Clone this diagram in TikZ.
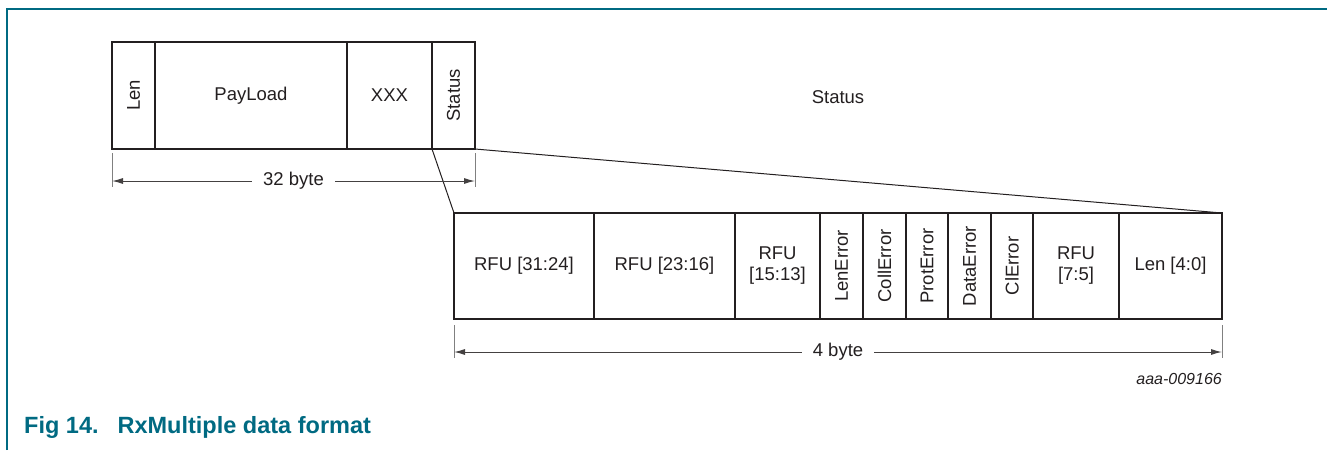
\documentclass[tikz,border=0pt]{standalone}
\usepackage{fontspec}
\setmainfont{Liberation Sans}
\usepackage{xcolor}
\usepackage{graphicx}
\definecolor{nxpteal}{RGB}{0,106,130}
\definecolor{ink}{RGB}{35,31,32}
\usetikzlibrary{arrows.meta}
\usetikzlibrary{positioning}

\begin{document}
\begin{tikzpicture}[x=1pt,y=-1pt,
  field/.style={draw=ink, line width=2pt, rectangle, inner sep=0pt, outer sep=0pt, anchor=north west, text=ink, align=center, font=\fontsize{18.5}{21}\selectfont},
  plain/.style={text=ink, inner sep=0pt, font=\fontsize{18.5}{21}\selectfont},
  zoomline/.style={draw=ink, line width=1pt},
  dimline/.style={draw=gray, line width=1pt},
  dimarrow/.style={draw=ink!85, line width=1pt, {Latex[length=11pt,width=6pt]}-{Latex[length=11pt,width=6pt]}},
  dimlabel/.style={fill=white, text=ink, inner xsep=11pt, inner ysep=2pt, font=\fontsize{18.5}{21}\selectfont}]

  \useasboundingbox (0,0) rectangle (1327,450);

  % frame
  \draw[nxpteal, line width=1.5pt] (7,450) -- (7,9) -- (1327,9);

  % 32 byte frame
  \node[field, minimum width=43pt, minimum height=107pt] (len) at (112,42) {\rotatebox{90}{Len}};
  \node[field, minimum width=192pt, minimum height=107pt] (payload) at (155,42) {PayLoad};
  \node[field, minimum width=85pt, minimum height=107pt] (xxx) at (347,42) {XXX};
  \node[field, minimum width=43pt, minimum height=107pt] (status) at (432,42) {\rotatebox{90}{Status}};

  \node[plain] (statustitle) at (838,97) {Status};

  % 4 byte status word
  \node[field, minimum width=140pt, minimum height=106pt] (rfuA) at (454,213) {RFU [31:24]};
  \node[field, minimum width=141pt, minimum height=106pt] (rfuB) at (594,213) {RFU [23:16]};
  \node[field, minimum width=85pt, minimum height=106pt] (rfuC) at (735,213) {RFU\\{}[15:13]};
  \node[field, minimum width=43pt, minimum height=106pt] (lenerr) at (820,213) {\rotatebox{90}{LenError}};
  \node[field, minimum width=43pt, minimum height=106pt] (collerr) at (863,213) {\rotatebox{90}{CollError}};
  \node[field, minimum width=42pt, minimum height=106pt] (proterr) at (906,213) {\rotatebox{90}{ProtError}};
  \node[field, minimum width=43pt, minimum height=106pt] (dataerr) at (948,213) {\rotatebox{90}{DataError}};
  \node[field, minimum width=42pt, minimum height=106pt] (clerr) at (991,213) {\rotatebox{90}{ClError}};
  \node[field, minimum width=86pt, minimum height=106pt] (rfuD) at (1033,213) {RFU\\{}[7:5]};
  \node[field, minimum width=103pt, minimum height=106pt] (lenbits) at (1119,213) {Len [4:0]};

  % zoom lines
  \draw[zoomline] (status.south west) -- (rfuA.north west);
  \draw[zoomline] (status.south east) -- (lenbits.north east);

  % dimensions
  \draw[dimline] ([yshift=-4pt]len.south west) -- ([yshift=-38pt]len.south west);
  \draw[dimline] ([yshift=-4pt]status.south east) -- ([yshift=-38pt]status.south east);
  \draw[dimarrow] ([yshift=-32pt]len.south west) -- ([yshift=-32pt]status.south east) node[dimlabel, midway] {32 byte};

  \draw[dimline] ([yshift=-6pt]rfuA.south west) -- ([yshift=-39pt]rfuA.south west);
  \draw[dimline] ([yshift=-6pt]lenbits.south east) -- ([yshift=-39pt]lenbits.south east);
  \draw[dimarrow] ([yshift=-33pt]rfuA.south west) -- ([yshift=-33pt]lenbits.south east) node[dimlabel, midway] {4 byte};

  \node[text=ink, anchor=east, inner sep=0pt, font=\fontsize{16}{19}\selectfont\itshape] (figid) at (1222,379) {aaa-009166};

  % caption
  \node[text=nxpteal, anchor=west, inner sep=0pt, font=\fontsize{23.5}{27}\selectfont\bfseries] (caption) at (24,427) {Fig 14.\hspace{19pt}RxMultiple data format};

\end{tikzpicture}
\end{document}
